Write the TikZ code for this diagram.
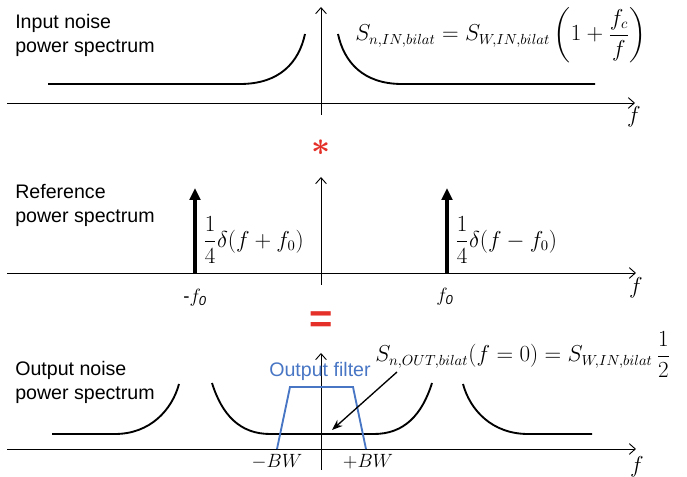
\documentclass[tikz,border=0pt]{standalone}
\usepackage{fontspec}
\usepackage{amsmath}
\setmainfont{Liberation Sans}
\usetikzlibrary{arrows.meta}
\definecolor{eqred}{RGB}{228,48,40}
\definecolor{filtblue}{RGB}{72,118,196}
\begin{document}
\begin{tikzpicture}[x=0.75pt,y=-0.75pt,
  axisline/.style={line width=0.7pt,-{Straight Barb[length=4.5pt,width=8pt,line width=0.7pt]}},
  specline/.style={line width=1.4pt},
  deltaline/.style={line width=3pt,-{Triangle[length=9pt,width=8pt]}},
  filtline/.style={filtblue,line width=1.4pt},
  ptr/.style={line width=1pt,-{Stealth[length=8pt,width=6pt]}},
  sidelbl/.style={font=\fontsize{14.7}{18}\selectfont,align=left,anchor=base west,inner sep=0pt},
  eqlbl/.style={font=\fontsize{16}{19}\selectfont,inner sep=0pt},
  axlbl/.style={font=\fontsize{16}{19}\selectfont,inner sep=0pt},
  ticklbl/.style={font=\fontsize{14}{17}\selectfont,inner sep=0pt},
  oplbl/.style={text=eqred,inner sep=0pt}]
\useasboundingbox (0,0) rectangle (687,477);

% ---------- Panel 1: input noise ----------
\coordinate (x1s) at (7,103);
\coordinate (x1e) at (635,103);
\coordinate (y1s) at (321,115);
\coordinate (y1e) at (321,7);
\draw[axisline] (x1s) -- (x1e);
\draw[axisline] (y1s) -- (y1e);
\node[axlbl] (f1) at (634,117) {$f$};
\draw[specline] (48,84) -- (240,84) .. controls (280,84) and (299,62) .. (305,34);
\draw[specline] (338,34) .. controls (344,62) and (363,84) .. (402,84) -- (595,84);
\node[sidelbl] (t1) at (15,53) {Input noise\\power spectrum};
\node[eqlbl,anchor=base west] (eq1) at (355,41)
  {$S_{n,IN,bilat}=S_{W,IN,bilat}\left(1+\dfrac{f_c}{f}\right)$};

% ---------- convolution symbol ----------
\node[oplbl,font=\fontsize{42}{44}\selectfont] (conv) at (321,148) {$\boldsymbol{\ast}$};

% ---------- Panel 2: reference ----------
\coordinate (x2s) at (7,273);
\coordinate (x2e) at (636,273);
\coordinate (y2s) at (321,285);
\coordinate (y2e) at (321,177);
\draw[axisline] (x2s) -- (x2e);
\draw[axisline] (y2s) -- (y2e);
\node[axlbl] (f2) at (636,288) {$f$};
\coordinate (dLb) at (195,273);
\coordinate (dLt) at (195,188);
\coordinate (dRb) at (447,273);
\coordinate (dRt) at (447,188);
\draw[deltaline] (dLb) -- (dLt);
\draw[deltaline] (dRb) -- (dRt);
\node[sidelbl] (t2) at (15,223) {Reference\\power spectrum};
\node[eqlbl,anchor=west] (dl) at (203,240) {$\dfrac{1}{4}\delta(f+f_0)$};
\node[eqlbl,anchor=west] (dr) at (455,240) {$\dfrac{1}{4}\delta(f-f_0)$};
\node[ticklbl] (mf0) at (195,298) {$\text{-}f_{\mathit{0}}$};
\node[ticklbl] (pf0) at (445,297) {$f_{\mathit{0}}$};

% ---------- equals symbol ----------
\node[oplbl,font=\fontsize{30}{32}\selectfont\bfseries] (eqsym) at (321,322) {=};

% ---------- Panel 3: output noise ----------
\coordinate (x3s) at (7,449);
\coordinate (x3e) at (636,449);
\coordinate (y3s) at (321,470);
\coordinate (y3e) at (321,353);
\draw[axisline] (x3s) -- (x3e);
\draw[axisline] (y3s) -- (y3e);
\node[axlbl] (f3) at (637,467) {$f$};
\draw[specline] (52,434) -- (115,434) .. controls (150,434) and (172,410) .. (179,384);
\draw[specline] (212,383) .. controls (222,415) and (240,434) .. (270,434) -- (374,434)
  .. controls (404,434) and (422,415) .. (432,383);
\draw[specline] (463,384) .. controls (470,410) and (492,434) .. (528,434) -- (592,434);
\draw[filtline] (277,449) -- (290,387) -- (353,387) -- (366,449);
\node[font=\fontsize{14.7}{17}\selectfont,text=filtblue,inner sep=0pt,anchor=base] (filt) at (320,377) {Output filter};
\node[sidelbl] (t3) at (15,400) {Output noise\\power spectrum};
\node[eqlbl,anchor=base west] (eq3) at (375,362)
  {$S_{n,OUT,bilat}(f=0)=S_{W,IN,bilat}\,\dfrac{1}{2}$};
\coordinate (pa) at (397,372);
\coordinate (pb) at (332,430);
\draw[ptr] (pa) -- (pb);
\node[ticklbl] (mbw) at (277,462) {$-BW$};
\node[ticklbl] (pbw) at (368,462) {$+BW$};
\end{tikzpicture}
\end{document}
